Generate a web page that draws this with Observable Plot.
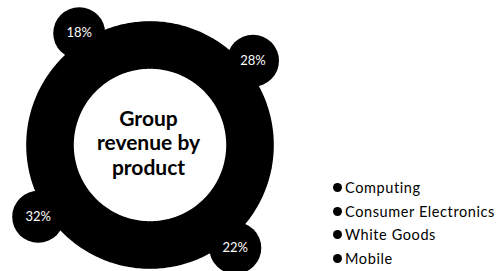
<!DOCTYPE html>
<html>
<head>
<meta charset="utf-8">
<script src="https://cdn.jsdelivr.net/npm/d3@7"></script>
<script src="https://cdn.jsdelivr.net/npm/@observablehq/plot@0.6"></script>
<style>
  html, body { margin: 0; padding: 0; background: #fff; }
  #wrap { position: relative; width: 497px; height: 271px; font-family: Lato, "Noto Sans", sans-serif; }
  #legend { position: absolute; left: 333px; top: 176px; }
  .item { display: flex; align-items: center; height: 23.5px; font-size: 14.5px; letter-spacing: 0.6px; color: #000; white-space: nowrap; }
  .sw { width: 9px; height: 9px; border-radius: 50%; background: #000; margin-right: 3px; }
</style>
</head>
<body>
<div id="wrap"><div id="legend"></div></div>
<script>
const categories = ["Computing", "Consumer Electronics", "White Goods", "Mobile"];
const shares = [28, 22, 32, 18];
const shareLabels = ["28%", "22%", "32%", "18%"];
const centerTitle = "Group\nrevenue by\nproduct";

const W = 497, H = 271;
const cx = 150, cy = 145;          // ring centre in pixels
const rInner = 77, rOuter = 123, rBubble = 133, bubbleSize = 26;

const pie = d3.pie().sort(null).value(d => d.share);
const arcs = pie(categories.map((c, i) => ({category: c, share: shares[i], label: shareLabels[i]})));

// sample each segment's arc
const ring = [];
for (const a of arcs) {
  const n = Math.max(2, Math.ceil((a.endAngle - a.startAngle) / (Math.PI / 180)));
  for (let k = 0; k <= n; k++) {
    const t = a.startAngle + (a.endAngle - a.startAngle) * k / n;
    ring.push({
      category: a.data.category,
      xi: rInner * Math.sin(t), yi: rInner * Math.cos(t),
      xo: rOuter * Math.sin(t), yo: rOuter * Math.cos(t)
    });
  }
}
const bubbles = arcs.map(a => {
  const m = (a.startAngle + a.endAngle) / 2;
  return {label: a.data.label, x: rBubble * Math.sin(m), y: rBubble * Math.cos(m)};
});

const chart = Plot.plot({
  width: W, height: H,
  margin: 0,
  x: {domain: [-cx, W - cx], axis: null},
  y: {domain: [-(H - cy), cy], axis: null},
  style: {fontFamily: "Lato, 'Noto Sans', sans-serif", background: "transparent"},
  marks: [
    Plot.area(ring, {x1: "xi", y1: "yi", x2: "xo", y2: "yo", z: "category", fill: "#000", stroke: "#000", strokeWidth: 1.6}),
    Plot.dot(bubbles, {x: "x", y: "y", r: bubbleSize, fill: "#000", stroke: "none"}),
    Plot.text(bubbles, {x: "x", y: "y", text: "label", fill: "#fff", fontSize: 13, fontWeight: 400, letterSpacing: 0.4}),
    Plot.text([centerTitle], {x: () => 0, y: () => 0, text: d => d, fill: "#000", fontSize: 21, fontWeight: 700, lineHeight: 1.17, dx: -2, dy: -3})
  ]
});
document.getElementById("wrap").prepend(chart);

const legend = document.getElementById("legend");
categories.forEach(c => {
  const row = document.createElement("div");
  row.className = "item";
  const sw = document.createElement("span");
  sw.className = "sw";
  const tx = document.createElement("span");
  tx.textContent = c;
  row.append(sw, tx);
  legend.append(row);
});
</script>
</body>
</html>
